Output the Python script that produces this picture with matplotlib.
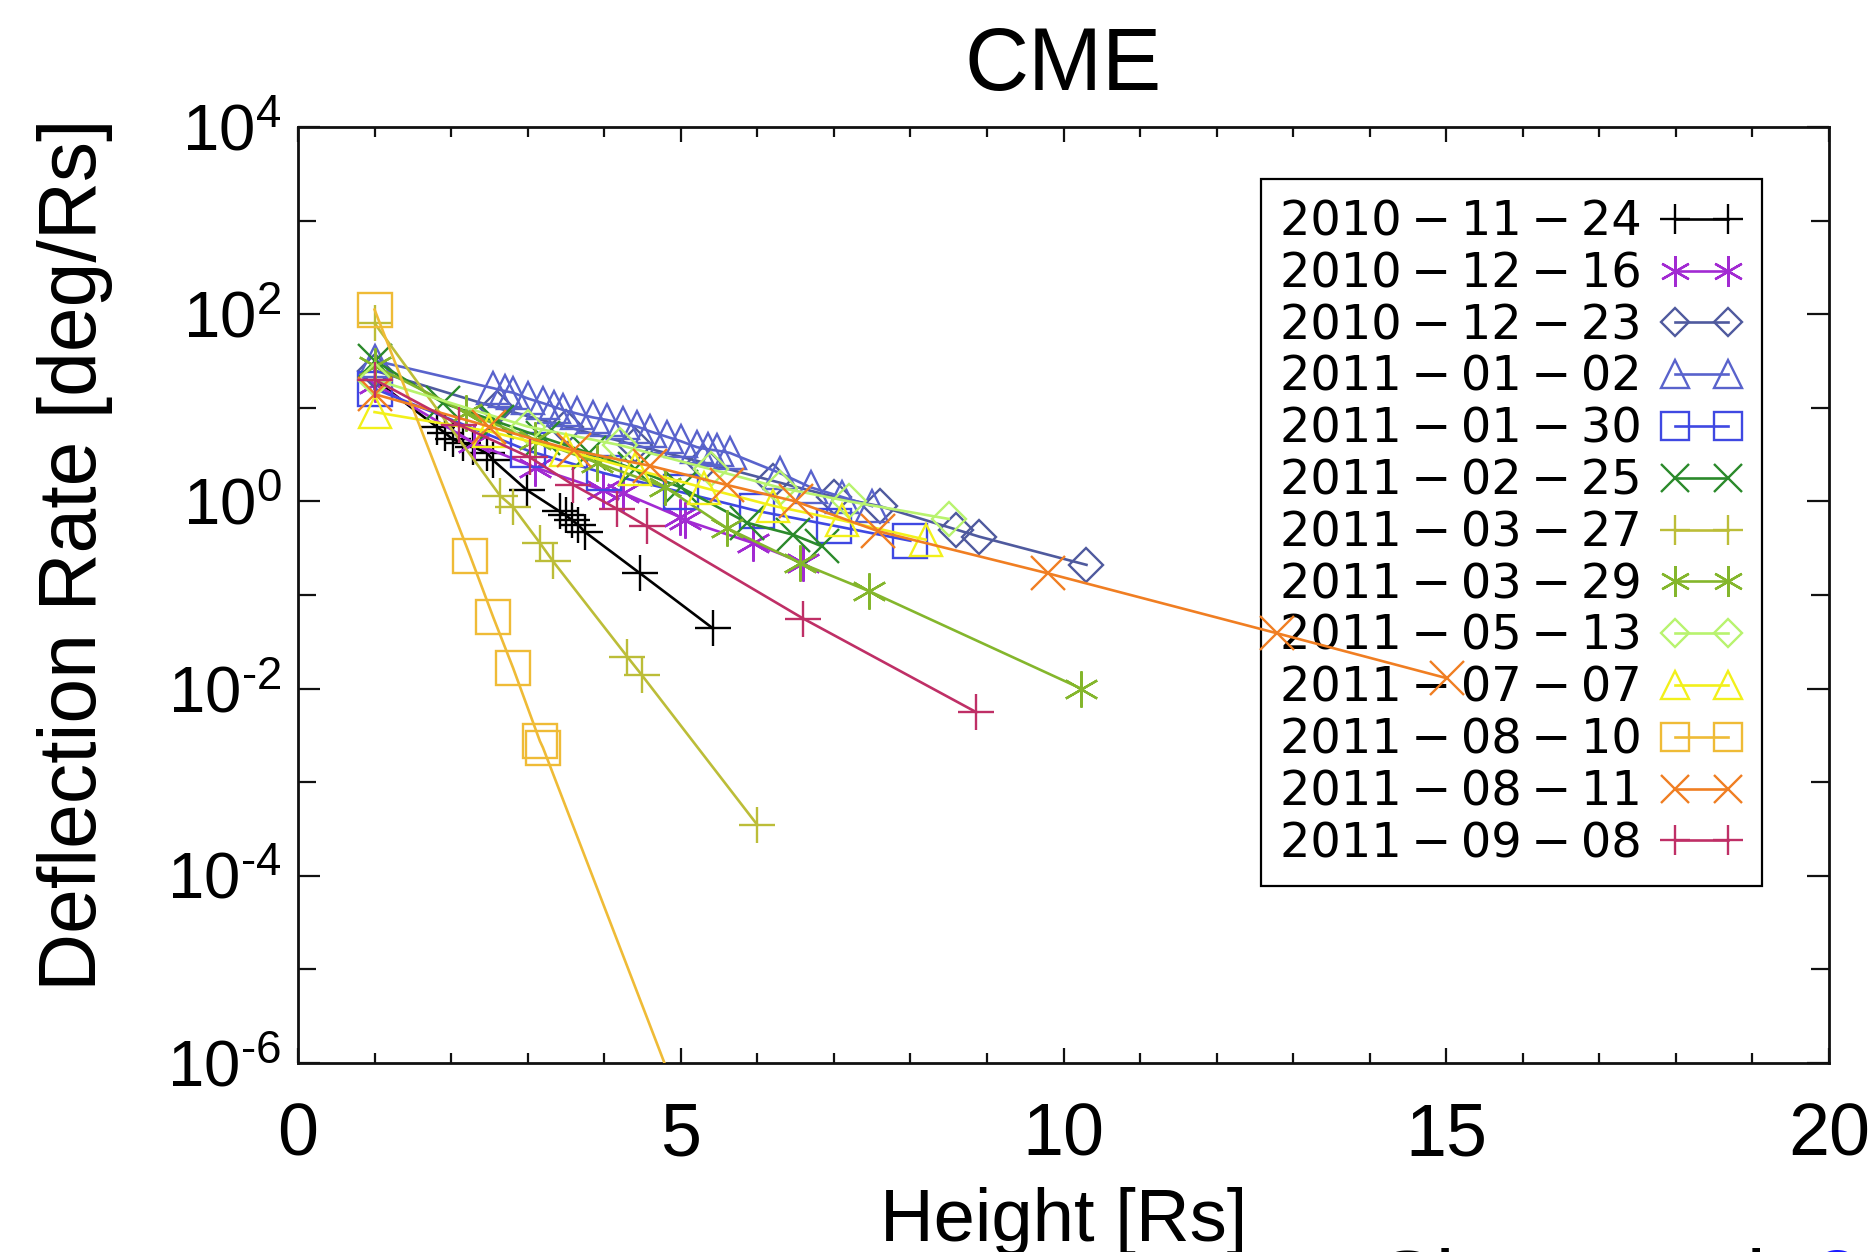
import matplotlib
matplotlib.use("Agg")
import matplotlib.pyplot as plt
from matplotlib.ticker import FixedLocator, FixedFormatter, NullFormatter

plt.rcParams['font.family'] = ['Liberation Sans', 'DejaVu Sans']
plt.rcParams['mathtext.fontset'] = 'custom'
plt.rcParams['mathtext.rm'] = 'Liberation Sans'
plt.rcParams['mathtext.it'] = 'Liberation Sans:italic'
plt.rcParams['mathtext.bf'] = 'Liberation Sans:bold'

# ---- deflection rate [deg/Rs] versus height [Rs] for each CME ----
h_20101124 = [1.0, 1.82, 1.92, 2.02, 2.16, 2.29, 2.47, 2.55, 2.99, 3.42, 3.5, 3.58, 3.66, 3.75, 4.47, 5.42]
r_20101124 = [20, 6.2, 5.4, 4.6, 4.2, 3.8, 3.3, 2.75, 1.32, 0.78, 0.71, 0.63, 0.56, 0.47, 0.17, 0.044]

h_20101216 = [1.0, 2.3, 3.1, 3.98, 4.25, 4.99, 5.05, 5.94, 6.6]
r_20101216 = [18, 4.2, 2.3, 1.32, 1.23, 0.68, 0.63, 0.36, 0.22]

h_20101223 = [1.0, 2.6, 3.5, 4.4, 5.3, 6.2, 7.0, 7.6, 8.6, 8.9, 10.3]
r_20101223 = [25, 10, 6.3, 4.0, 2.6, 1.66, 1.12, 0.89, 0.50, 0.42, 0.21]

h_20110102 = [1.0, 2.55, 2.7, 2.81, 3.0, 3.2, 3.35, 3.46, 3.64, 3.85, 4.04, 4.25,
              4.43, 4.6, 4.82, 5.0, 5.21, 5.35, 5.47, 5.64, 6.3, 6.7, 7.1, 7.5]
r_20110102 = [32, 16.2, 15.1, 14.5, 12.6, 11.2, 10.2, 9.5, 8.7, 7.9, 7.4, 6.8,
              6.3, 5.6, 4.9, 4.4, 3.8, 3.6, 3.5, 3.3, 2.0, 1.41, 1.12, 0.89]

h_20110130 = [1.0, 3.0, 4.0, 5.0, 6.0, 7.0, 8.0]
r_20110130 = [16, 3.5, 2.0, 1.26, 0.79, 0.55, 0.38]

h_20110225 = [1.0, 1.9, 2.6, 3.2, 3.8, 4.4, 5.0, 5.87, 6.47, 6.85]
r_20110225 = [32, 11.2, 7.1, 4.8, 3.3, 2.2, 1.41, 0.59, 0.44, 0.33]

h_20110327 = [1.0, 2.64, 2.81, 3.16, 3.33, 4.30, 4.49, 6.0]
r_20110327 = [80, 1.15, 0.87, 0.36, 0.23, 0.022, 0.014, 3.5e-4]

h_20110329 = [1.0, 2.2, 3.1, 3.9, 4.8, 5.6, 6.56, 7.46, 10.23]
r_20110329 = [28, 8.9, 4.5, 2.6, 1.41, 0.52, 0.22, 0.11, 0.01]

h_20110513 = [1.0, 3.0, 4.2, 5.4, 6.3, 7.2, 8.5]
r_20110513 = [20, 6.3, 4.0, 2.2, 1.4, 1.0, 0.65]

h_20110707 = [1.0, 2.5, 3.5, 4.4, 5.3, 6.2, 7.1, 8.2]
r_20110707 = [9, 5.6, 3.5, 2.2, 1.4, 0.9, 0.63, 0.39]

h_20110810 = [1.0, 2.25, 2.55, 2.81, 3.16, 3.2, 5.4]
r_20110810 = [112, 0.26, 0.058, 0.0166, 0.00275, 0.00234, 5e-8]

h_20110811 = [1.0, 2.5, 3.6, 4.6, 5.6, 6.5, 7.58, 9.8, 12.79, 15.01]
r_20110811 = [14, 6.3, 3.5, 2.4, 1.5, 1.0, 0.48, 0.17, 0.039, 0.0129]

h_20110908 = [1.0, 2.1, 3.03, 3.59, 4.17, 4.56, 6.6, 8.86]
r_20110908 = [20, 6.6, 2.95, 1.51, 0.83, 0.54, 0.056, 0.0056]

event_dates = ['2010-11-24', '2010-12-16', '2010-12-23', '2011-01-02', '2011-01-30',
               '2011-02-25', '2011-03-27', '2011-03-29', '2011-05-13', '2011-07-07',
               '2011-08-10', '2011-08-11', '2011-09-08']
heights = [h_20101124, h_20101216, h_20101223, h_20110102, h_20110130, h_20110225,
           h_20110327, h_20110329, h_20110513, h_20110707, h_20110810, h_20110811, h_20110908]
rates = [r_20101124, r_20101216, r_20101223, r_20110102, r_20110130, r_20110225,
         r_20110327, r_20110329, r_20110513, r_20110707, r_20110810, r_20110811, r_20110908]

x_ticks = [0, 5, 10, 15, 20]
y_major = [1e-6, 1e-4, 1e-2, 1e0, 1e2, 1e4]
y_minor = [1e-5, 1e-3, 1e-1, 1e1, 1e3]
y_exponents = ['\u20106', '\u20104', '\u20102', '0', '2', '4']

# ---- styles ----
asterisk = (6, 2, 0)
styles = [
    dict(color='#000000', marker='+', ms=26),
    dict(color='#a22ad2', marker=asterisk, ms=26),
    dict(color='#4f5a9e', marker='D', ms=17),
    dict(color='#5963cc', marker='^', ms=23),
    dict(color='#3f48e2', marker='s', ms=24),
    dict(color='#2b8a2b', marker='x', ms=24),
    dict(color='#bcbd38', marker='+', ms=26),
    dict(color='#84b62c', marker=asterisk, ms=26),
    dict(color='#b8f36e', marker='D', ms=17),
    dict(color='#f2f01a', marker='^', ms=23),
    dict(color='#efbb36', marker='s', ms=24),
    dict(color='#f07e22', marker='x', ms=24),
    dict(color='#bf2f66', marker='+', ms=26),
]

W, H = 1870, 1252
fig = plt.figure(figsize=(W / 100, H / 100), dpi=100)
ax = fig.add_axes([298 / W, 1 - 1063 / H, (1829 - 298) / W, (1063 - 127) / H])

handles = []
for date, hx, ry, st in zip(event_dates, heights, rates, styles):
    ln, = ax.plot(hx, ry, color=st['color'], lw=1.9, marker=st['marker'],
                  ms=st['ms'], mew=1.7, mfc='none', mec=st['color'], zorder=3)
    handles.append(ln)

ax.set_yscale('log')
ax.set_xlim(0, 20)
ax.set_ylim(1e-6, 1e4)

ax.xaxis.set_major_locator(FixedLocator(x_ticks))
ax.xaxis.set_major_formatter(FixedFormatter([str(t) for t in x_ticks]))
ax.xaxis.set_minor_locator(FixedLocator(list(range(0, 21))))
ax.xaxis.set_minor_formatter(NullFormatter())
ax.yaxis.set_major_locator(FixedLocator(y_major))
ax.yaxis.set_major_formatter(FixedFormatter([r'$\mathregular{10^{%s}}$' % e for e in y_exponents]))
ax.yaxis.set_minor_locator(FixedLocator(y_minor))
ax.yaxis.set_minor_formatter(NullFormatter())

ax.tick_params(axis='both', which='both', direction='in', top=True, right=True,
               width=1.6, color='#111111')
ax.tick_params(axis='x', which='major', length=11, labelsize=53, pad=28)
ax.tick_params(axis='x', which='minor', length=7)
ax.tick_params(axis='y', which='major', length=16, labelsize=47, pad=12)
ax.tick_params(axis='y', which='minor', length=13)
for sp in ax.spines.values():
    sp.set_linewidth(2.0)
    sp.set_color('#111111')

ax.set_xlabel('Height [Rs]', fontsize=53.5)
ax.xaxis.set_label_coords(0.5, -0.133)
ax.set_ylabel('Deflection Rate [deg/Rs]', fontsize=58)
ax.yaxis.set_label_coords(-0.121, 0.543)

fig.text(1063.5 / W, 1 - 90 / H, 'CME', ha='center', va='baseline', fontsize=64)

labels = [d.replace('-', '\u2009\u2212\u2009') for d in event_dates]
leg = ax.legend(handles, labels, loc='upper right', bbox_to_anchor=(0.956, 0.944),
                borderaxespad=0, markerfirst=False, numpoints=2, handlelength=1.7,
                handletextpad=0.4, labelspacing=0.1, borderpad=0.4, frameon=True,
                fancybox=False, edgecolor='black', framealpha=1, markerscale=0.85,
                prop={'family': 'DejaVu Sans', 'size': 34.5})
leg.get_frame().set_linewidth(1.6)
leg.set_zorder(2)

fig.text(1378 / W, 1 - 1310 / H, 'Shen et al. ', ha='left', va='baseline', fontsize=62)
fig.text(1813 / W, 1 - 1310 / H, '2011', ha='left', va='baseline', fontsize=62, color='#1a1aff')

fig.savefig('out.png', dpi=100)
